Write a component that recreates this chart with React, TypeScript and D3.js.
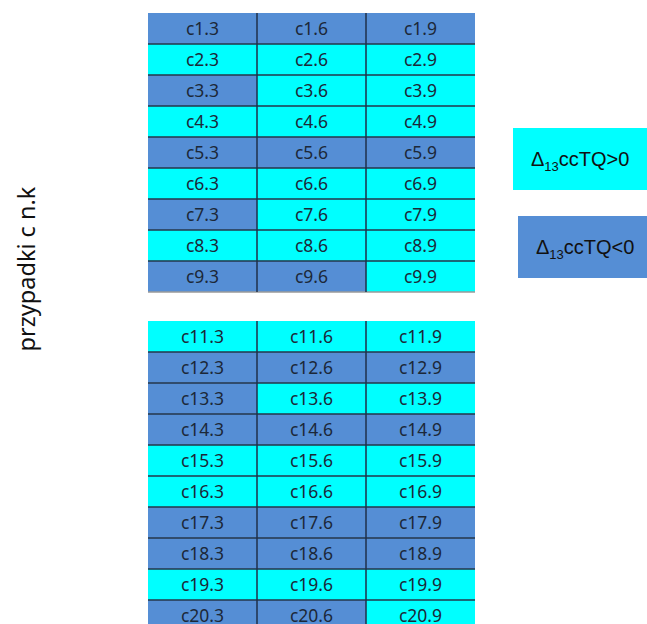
import React, { useEffect, useRef } from 'react';
import * as d3 from 'd3';

// rows of the two tables (case numbers) and columns (k)
const rowsTop: number[] = [1, 2, 3, 4, 5, 6, 7, 8, 9];
const rowsBottom: number[] = [11, 12, 13, 14, 15, 16, 17, 18, 19, 20];
const cols: string[] = ['3', '6', '9'];

// sign of Δ13ccTQ per cell: 1 = >0 (cyan), -1 = <0 (blue)
const signsTop: number[][] = [
    [-1, -1, -1],
    [1, 1, 1],
    [-1, 1, 1],
    [1, 1, 1],
    [-1, -1, -1],
    [1, 1, 1],
    [-1, 1, 1],
    [1, 1, 1],
    [-1, -1, 1],
];
const signsBottom: number[][] = [
    [1, 1, 1],
    [-1, -1, -1],
    [-1, 1, 1],
    [-1, -1, -1],
    [1, 1, 1],
    [1, 1, 1],
    [-1, -1, -1],
    [-1, -1, -1],
    [1, 1, 1],
    [-1, -1, 1],
];
const legendItems: { sign: number; op: string }[] = [
    { sign: 1, op: '>0' },
    { sign: -1, op: '<0' },
];
const axisLabel = 'przypadki c n.k';

const POS = '#00FFFF';
const NEG = '#558ED5';
const LINE = '#24364a';
const TXT = '#1c2838';

const App: React.FC = () => {
    const ref = useRef<SVGSVGElement | null>(null);

    useEffect(() => {
        const svg = d3.select(ref.current);
        svg.selectAll('*').remove();

        const x = d3.scaleBand<string>().domain(cols).range([148, 475]);

        const drawTable = (rows: number[], signs: number[][], y0: number, y1: number, lastLine: boolean) => {
            const y = d3.scaleBand<number>().domain(rows).range([y0, y1]);
            const g = svg.append('g');
            const cells = rows.flatMap((r, i) => cols.map((c, j) => ({ r, c, s: signs[i][j] })));
            g.selectAll('rect')
                .data(cells)
                .enter()
                .append('rect')
                .attr('x', (d) => x(d.c)!)
                .attr('y', (d) => y(d.r)!)
                .attr('width', x.bandwidth())
                .attr('height', y.bandwidth())
                .attr('fill', (d) => (d.s > 0 ? POS : NEG));
            g.selectAll('text')
                .data(cells)
                .enter()
                .append('text')
                .attr('x', (d) => x(d.c)! + x.bandwidth() / 2)
                .attr('y', (d) => y(d.r)! + y.bandwidth() / 2 + 6)
                .attr('text-anchor', 'middle')
                .style('font-family', '"Noto Sans", sans-serif')
                .style('font-size', '17.5px')
                .attr('fill', TXT)
                .text((d) => `c${d.r}.${d.c}`);
            // horizontal lines between rows
            g.selectAll('line.h')
                .data(rows.slice(1))
                .enter()
                .append('line')
                .attr('x1', x.range()[0])
                .attr('x2', x.range()[1])
                .attr('y1', (r) => y(r)!)
                .attr('y2', (r) => y(r)!)
                .attr('stroke', LINE)
                .attr('stroke-width', 1.5);
            if (lastLine) {
                g.append('line')
                    .attr('x1', x.range()[0])
                    .attr('x2', x.range()[1])
                    .attr('y1', y1)
                    .attr('y2', y1)
                    .attr('stroke', '#9a9a9a')
                    .attr('stroke-width', 1.5);
            }
            g.selectAll('line.v')
                .data(cols.slice(1))
                .enter()
                .append('line')
                .attr('x1', (c) => x(c)!)
                .attr('x2', (c) => x(c)!)
                .attr('y1', y0)
                .attr('y2', y1)
                .attr('stroke', '#1f2f48')
                .attr('stroke-width', 1.5);
        };

        drawTable(rowsTop, signsTop, 13, 292, true);
        drawTable(rowsBottom, signsBottom, 321, 631, false);

        // legend boxes
        const ly = d3.scalePoint<number>().domain(legendItems.map((_, i) => i)).range([128, 216]);
        const lg = svg.append('g');
        legendItems.forEach((it, i) => {
            const bx = i === 0 ? 513 : 518;
            lg.append('rect')
                .attr('x', bx)
                .attr('y', ly(i)!)
                .attr('width', 647 - bx + 20)
                .attr('height', 62)
                .attr('fill', it.sign > 0 ? POS : NEG);
            const t = lg.append('text')
                .attr('x', bx + 18)
                .attr('y', ly(i)! + 38)
                .style('font-family', '"Liberation Sans", Arial, sans-serif')
                .style('font-size', '20px')
                .attr('fill', '#111');
            t.append('tspan').text('Δ');
            t.append('tspan').attr('dy', 5).style('font-size', '13px').text('13');
            t.append('tspan').attr('dy', -5).text(`ccTQ${it.op}`);
        });

        // vertical axis label
        svg.append('text')
            .attr('transform', 'translate(35,269) rotate(-90)')
            .attr('text-anchor', 'middle')
            .style('font-family', '"Noto Sans", sans-serif')
            .style('font-size', '23.5px')
            .attr('fill', '#111')
            .text(axisLabel);
    }, []);

    return (
        <svg
            ref={ref}
            width={647}
            height={624}
            style={{ position: 'absolute', left: 0, top: 0, background: '#fff' }}
        />
    );
};

export default App;
